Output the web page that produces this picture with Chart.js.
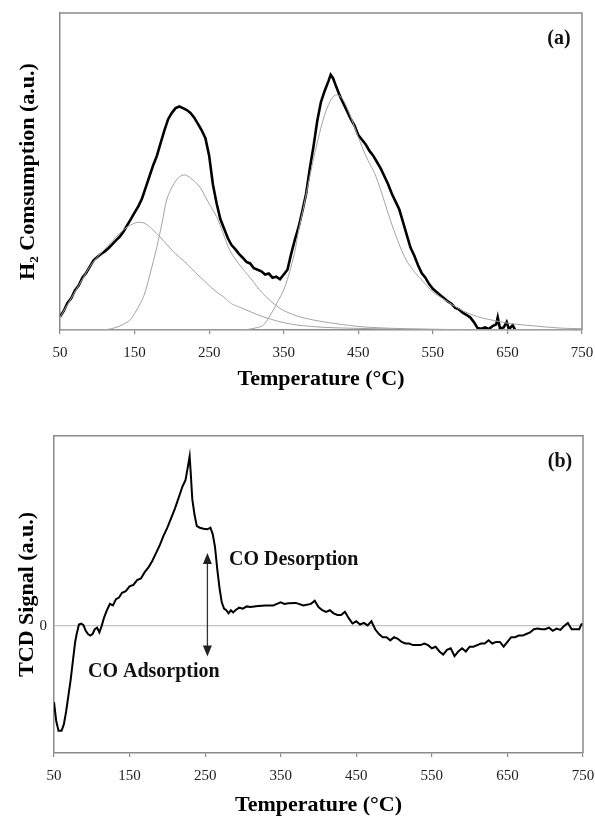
<!DOCTYPE html>
<html>
<head>
<meta charset="utf-8">
<script src="https://cdn.jsdelivr.net/npm/chart.js@4.4.1/dist/chart.umd.min.js"></script>
<style>
  body { margin: 0; background: white; }
  #wrap { position: relative; width: 595px; height: 825px; }
  canvas { position: absolute; left: 0; }
</style>
</head>
<body>
<div id="wrap">
  <canvas id="chartA" style="top:0px"></canvas>
  <canvas id="chartB" style="top:415px"></canvas>
</div>
<script>

// ---- (a) H2 TPR ----
var xTicks = [50, 150, 250, 350, 450, 550, 650, 750]

var tprTemp = [50,55,60,65,70,75,80,85,90,95,100,105,110,115,120,125,130,135,140,145,150,155,160,165,170,175,180,185,190,195,
  200,205,210,215,220,225,230,235,240,245,250,255,260,265,270,275,280,285,290,295,300,305,310,315,320,325,330,335,340,345,
  350,355,360,365,370,375,380,385,390,395,400,405,410,413,416,420,425,430,435,440,445,450,455,460,465,470,475,480,485,490,
  495,500,505,510,515,520,525,530,535,540,545,550,555,560,565,570,575,580,585,590,595,600,605,610,615,620,625,630,635,637,
  640,645,649,652,657,660]
var tprH2 = [4.2,6,8.5,10,12.5,14,16.5,18,20,22,23,24,24.8,25.8,27,28.3,29.4,31,33,35,37,39,41.5,45,48.5,52,55,59,63,66.5,
  68.5,70,70.5,70,69.4,68.5,67,65,63,60.5,55,46,40,35,32,29,26.8,25.5,24,22.8,21.5,21,19.5,19,18.5,17.5,17.8,16.5,16.8,16,
  17.5,19,24,28.5,32.5,37.5,43,51,58,66,72,75.5,78.5,80.5,79.5,77,74,71.5,69,66.5,64.5,61.5,60,58.5,56.5,55,53,51,48.5,46,
  43,40.5,38,34,30,26,23.5,20.5,18,16.5,14.5,13,12,11,10,9,8.3,7,6.5,5.5,4.8,4,2.5,0.6,0.4,0.8,0.3,1.2,1.8,4,
  0.5,0.8,2.5,0.3,1.5,0.2]

// fitted peaks (thin grey)
var fit1Temp = [50,60,70,80,90,100,110,120,130,140,150,157,165,175,184,195,205,215,230,247,260,269,280,291,305,322,345,367,400,434,500,600,750]
var fit1Val  = [4,8,12,16,20,23,25.5,28,30.5,32.5,33.7,34,33.5,31.5,29.4,26.5,24,22,18.5,14.7,12,10.5,8.3,7.2,5.8,4.2,2.6,1.6,0.9,0.6,0.3,0.1,0]

var fit2Temp = [50,100,112,125,135,144,152,162,170,180,187,193,200,206,212,218,225,232,238,245,252,260,268,278,291,305,322,345,367,389,420,456,500,560,650,750]
var fit2Val  = [0,0,0.1,0.8,1.8,3.2,6,10.5,17,26.3,34,41,45,47.3,48.6,48.9,48,46.5,45,42,39,35.8,31,25,20.5,16.5,11.5,6.8,4.5,3.2,2,1,0.5,0.2,0.1,0]

var fit3Temp = [50,290,300,315,323,336,342,350,355,361,366,370,376,382,390,398,405,412,418,424,430,437,445,455,463,472,481,490,500,512,523,535,550,566,588,610,632,655,690,722,750]
var fit3Val  = [0,0,0.1,0.8,1.6,6.3,9,12.6,16,21,26,31.5,38,45,54,62,68,72,74,74,72.5,69,64,57.8,53.5,49.4,43.5,36.8,30,23.1,19,15.8,12,9.5,6.3,4.2,3,2,1.2,0.6,0.4]

// ---- (b) CO TPD ----
var tpdTemp = [50,53,56,60,63,66,69,72,75,78,80,83,86,89,92,95,98,101,104,107,110,113,116,120,124,128,132,136,140,145,
  150,155,160,165,170,175,180,185,190,195,200,205,210,215,220,224,227,229.5,231,233,236,239,243,248,253,257,260,263,266,269,
  272,275,278,281,284,287,290,295,300,305,310,320,330,340,345,350,355,360,370,380,390,395,400,405,410,415,420,425,430,435,
  440,445,450,455,460,465,470,475,480,485,490,495,500,505,510,515,520,525,530,535,540,545,550,555,560,565,570,575,580,585,
  590,595,600,605,610,615,620,625,630,635,640,645,650,655,660,665,670,675,680,685,690,695,700,705,710,715,720,725,730,735,
  740,745,748,750]
var tpdSignal = [-24,-30,-33,-33,-31,-27,-22,-17,-11,-5,-2.5,0.5,0.8,0.3,-1.5,-2.5,-3,-2.5,-1,-0.5,-2,0,2.5,5,7,6.5,8.5,9,10.5,11,
  12.5,13,14.5,15,17,18.5,20.5,23,25.5,28.5,31,34,37,40.5,44,46,50,53.5,48,40,35,31.5,31,30.7,30.5,31,29,25,18,12,
  7.5,5.5,5,4,5,4.3,5,5.8,5.5,6.2,6,6.3,6.5,6.5,7,7.5,7,7.2,7.3,6.5,7,8,6,5,4.5,5,4,3.5,3.5,4.5,
  2.5,0.8,1.5,0.5,1,0.2,1.5,-1,-2.5,-3.5,-3.5,-4.5,-3.5,-4,-5,-5.5,-5.5,-6,-6,-6,-5.5,-6,-7,-6.5,-8,-9,-7.5,-7,-9.5,-8,
  -7,-8,-6.5,-6.5,-6,-5.5,-5.5,-4.5,-5.5,-5,-5,-6.5,-5,-3.5,-3.5,-3,-3,-2.5,-2,-1,-0.8,-1,-1,-0.5,-1.5,-0.8,-1.2,0,1,-1,
  -1,-1,0.6,0.6]

var arrowTemp = 253
var arrowFrom = 23
var arrowTo = -9.6

var serif = '"Liberation Serif", "Times New Roman", serif'
var axisGrey = '#8a8a8a'

function toPoints(xs, ys){
  var pts = []
  for (let i = 0; i < xs.length; i++) {
    pts.push({x: xs[i], y: ys[i]})
  }
  return pts
}

// top and right sides of the plot box
var framePlugin = {
  id: 'frame',
  afterDraw: function(chart){
    var a = chart.chartArea
    var ctx = chart.ctx
    ctx.save()
    ctx.strokeStyle = axisGrey
    ctx.lineWidth = 1.5
    ctx.beginPath()
    ctx.moveTo(a.left, a.top)
    ctx.lineTo(a.right, a.top)
    ctx.lineTo(a.right, a.bottom)
    ctx.stroke()
    ctx.restore()
  }
}

// panel letters and the CO labels / arrow, placed with the scales
var notesPlugin = {
  id: 'notes',
  afterDraw: function(chart, args, opts){
    var ctx = chart.ctx
    var xs = chart.scales.x
    var ys = chart.scales.y
    ctx.save()
    ctx.fillStyle = '#111'
    ctx.font = 'bold 20px ' + serif
    ctx.textBaseline = 'middle'
    ctx.textAlign = 'center'
    ctx.fillText(opts.panel, xs.getPixelForValue(opts.panelX), ys.getPixelForValue(opts.panelY))

    if (opts.arrow) {
      var ax = xs.getPixelForValue(arrowTemp)
      var y1 = ys.getPixelForValue(arrowFrom)
      var y2 = ys.getPixelForValue(arrowTo)
      ctx.strokeStyle = '#333'
      ctx.fillStyle = '#222'
      ctx.lineWidth = 1.3
      ctx.beginPath()
      ctx.moveTo(ax, y1 + 8)
      ctx.lineTo(ax, y2 - 8)
      ctx.stroke()
      ctx.beginPath()
      ctx.moveTo(ax, y1); ctx.lineTo(ax - 4.5, y1 + 11); ctx.lineTo(ax + 4.5, y1 + 11); ctx.closePath()
      ctx.fill()
      ctx.beginPath()
      ctx.moveTo(ax, y2); ctx.lineTo(ax - 4.5, y2 - 11); ctx.lineTo(ax + 4.5, y2 - 11); ctx.closePath()
      ctx.fill()

      ctx.fillStyle = '#111'
      ctx.textAlign = 'left'
      ctx.fillText('CO Desorption', xs.getPixelForValue(281.6), ys.getPixelForValue(20.8))
      ctx.fillText('CO Adsorption', xs.getPixelForValue(95), ys.getPixelForValue(-14.4))
    }
    ctx.restore()
  }
}

function xAxis(height, tickPad, titlePad){
  return {
    type: 'linear',
    min: 50,
    max: 750,
    afterBuildTicks: function(axis){ axis.ticks = xTicks.map(v => ({value: v})) },
    afterFit: function(axis){
      axis.height = height
      // let the "750" label hang past the plot edge like the original
      axis.paddingRight = 0
      axis.paddingLeft = 0
    },
    grid: { display: true, drawOnChartArea: false, drawTicks: true, tickLength: 4, color: axisGrey, lineWidth: 1.2 },
    border: { display: true, color: axisGrey, width: 1.5 },
    ticks: { color: '#222', padding: tickPad, maxRotation: 0, font: { family: serif, size: 15 } },
    title: { display: true, text: 'Temperature (°C)', color: '#000', padding: { top: 0, bottom: titlePad },
             font: { family: serif, size: 22, weight: 'bold' } }
  }
}

var thinGrey = { borderColor: '#a3a3a3', borderWidth: 1, pointRadius: 0, tension: 0.3, fill: false }

const ctxA = document.getElementById('chartA')
ctxA.width = 595
ctxA.height = 410
new Chart(ctxA, {
  type: 'line',
  data: {
    datasets: [
      Object.assign({ label: 'fit 1', data: toPoints(fit1Temp, fit1Val) }, thinGrey),
      Object.assign({ label: 'fit 2', data: toPoints(fit2Temp, fit2Val) }, thinGrey),
      Object.assign({ label: 'fit 3', data: toPoints(fit3Temp, fit3Val) }, thinGrey),
      { label: 'H2 consumption', data: toPoints(tprTemp, tprH2), borderColor: '#000', borderWidth: 2.6,
        pointRadius: 0, tension: 0, fill: false }
    ]
  },
  options: {
    responsive: false,
    animation: false,
    layout: { padding: { top: 13, right: 13, left: 0, bottom: 0 } },
    plugins: {
      legend: { display: false },
      tooltip: { enabled: false },
      notes: { panel: '(a)', panelX: 719, panelY: 92 }
    },
    scales: {
      x: xAxis(80, 10, 17),
      y: {
        min: 0,
        max: 100,
        afterFit: function(axis){ axis.width = 60 },
        grid: { display: false },
        border: { display: true, color: axisGrey, width: 1.5 },
        ticks: { display: false },
        title: { display: true, text: 'H\u2082 Comsumption (a.u.)', color: '#000', padding: { top: 15, bottom: 0 },
                 font: { family: serif, size: 22, weight: 'bold' } }
      }
    }
  },
  plugins: [framePlugin, notesPlugin]
})

const ctxB = document.getElementById('chartB')
ctxB.width = 595
ctxB.height = 410
new Chart(ctxB, {
  type: 'line',
  data: {
    datasets: [
      { label: 'TCD signal', data: toPoints(tpdTemp, tpdSignal), borderColor: '#000', borderWidth: 2,
        pointRadius: 0, tension: 0, fill: false }
    ]
  },
  options: {
    responsive: false,
    animation: false,
    layout: { padding: { top: 20.7, right: 12, left: 0, bottom: 0 } },
    plugins: {
      legend: { display: false },
      tooltip: { enabled: false },
      notes: { panel: '(b)', panelX: 719.6, panelY: 51.8, arrow: true }
    },
    scales: {
      x: xAxis(72, 10, 6),
      y: {
        min: -40,
        max: 60,
        afterBuildTicks: function(axis){ axis.ticks = [{value: 0}] },
        afterFit: function(axis){ axis.width = 54 },
        grid: { display: true, drawTicks: false, color: '#c4c4c4', lineWidth: 1.2 },
        border: { display: true, color: axisGrey, width: 1.5 },
        ticks: { color: '#222', padding: 7, font: { family: serif, size: 15 } },
        title: { display: true, text: 'TCD Signal (a.u.)', color: '#000', padding: { top: 14, bottom: 0 },
                 font: { family: serif, size: 22, weight: 'bold' } }
      }
    }
  },
  plugins: [framePlugin, notesPlugin]
})

</script>
</body>
</html>
